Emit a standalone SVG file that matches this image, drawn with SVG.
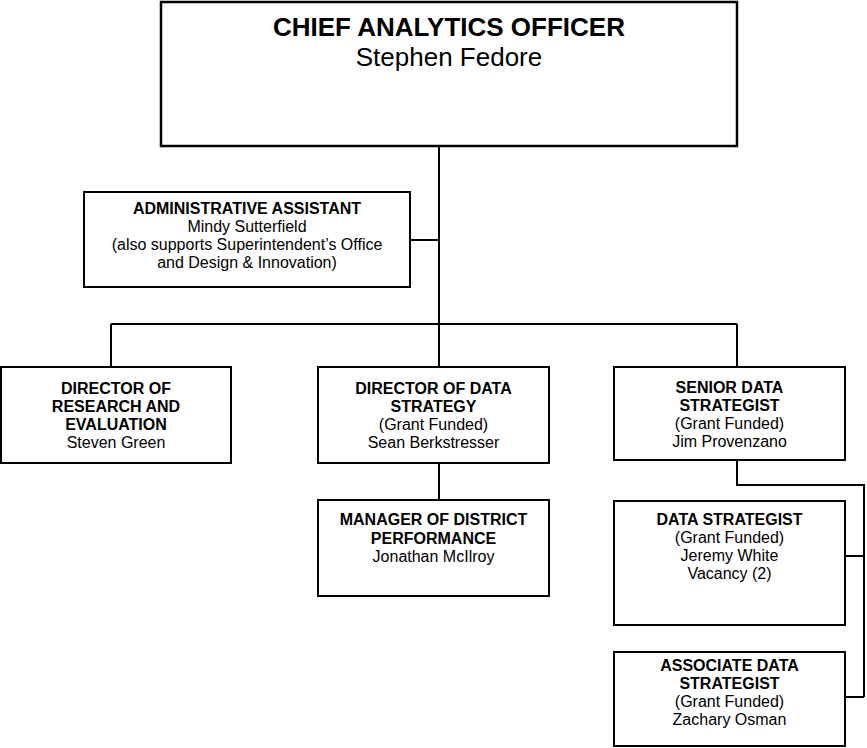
<svg xmlns="http://www.w3.org/2000/svg" width="867" height="748" viewBox="0 0 867 748">
<style>
.box{fill:#fff;stroke:#000;stroke-width:2}
.top{fill:#fff;stroke:#000;stroke-width:2.5}
.ln{fill:none;stroke:#000;stroke-width:2}
text{font-family:"Liberation Sans",Arial,sans-serif;fill:#000;text-anchor:middle}
.t{font-size:16px;font-weight:bold}
.n{font-size:16px}
.bt{font-size:26px;font-weight:bold}
.bn{font-size:26px}
</style>
<rect width="867" height="748" fill="#fff"/>
<g id="connectors">
<line class="ln" x1="439" y1="146" x2="439" y2="367"/>
<line class="ln" x1="410" y1="240" x2="439" y2="240"/>
<line class="ln" x1="111" y1="324" x2="737" y2="324"/>
<line class="ln" x1="111" y1="324" x2="111" y2="367"/>
<line class="ln" x1="737" y1="324" x2="737" y2="367"/>
<line class="ln" x1="439" y1="463" x2="439" y2="500"/>
<path class="ln" d="M737,460 V485 H864 V697"/>
<line class="ln" x1="845" y1="556" x2="864" y2="556"/>
<line class="ln" x1="845" y1="697" x2="864" y2="697"/>
</g>
<g id="cao">
<rect class="top" x="161" y="2" width="576" height="144"/>
<text class="bt" x="449" y="36">CHIEF ANALYTICS OFFICER</text>
<text class="bn" x="449" y="66">Stephen Fedore</text>
</g>
<g id="admin">
<rect class="box" x="84" y="192" width="326" height="95"/>
<text class="t" x="247" y="214">ADMINISTRATIVE ASSISTANT</text>
<text class="n" x="247" y="232">Mindy Sutterfield</text>
<text class="n" x="247" y="250">(also supports Superintendent’s Office</text>
<text class="n" x="247" y="268">and Design &amp; Innovation)</text>
</g>
<g id="research">
<rect class="box" x="1" y="367" width="230" height="96"/>
<text class="t" x="116" y="394">DIRECTOR OF</text>
<text class="t" x="116" y="412">RESEARCH AND</text>
<text class="t" x="116" y="430">EVALUATION</text>
<text class="n" x="116" y="448">Steven Green</text>
</g>
<g id="datastrategy">
<rect class="box" x="318" y="367" width="231" height="96"/>
<text class="t" x="433.5" y="394">DIRECTOR OF DATA</text>
<text class="t" x="433.5" y="412">STRATEGY</text>
<text class="n" x="433.5" y="430">(Grant Funded)</text>
<text class="n" x="433.5" y="448">Sean Berkstresser</text>
</g>
<g id="senior">
<rect class="box" x="614" y="367" width="231" height="93"/>
<text class="t" x="729.5" y="393">SENIOR DATA</text>
<text class="t" x="729.5" y="411">STRATEGIST</text>
<text class="n" x="729.5" y="429">(Grant Funded)</text>
<text class="n" x="729.5" y="447">Jim Provenzano</text>
</g>
<g id="manager">
<rect class="box" x="318" y="500" width="231" height="96"/>
<text class="t" x="433.5" y="525">MANAGER OF DISTRICT</text>
<text class="t" x="433.5" y="543.5">PERFORMANCE</text>
<text class="n" x="433.5" y="562">Jonathan McIlroy</text>
</g>
<g id="strategist">
<rect class="box" x="614" y="501" width="231" height="124"/>
<text class="t" x="729.5" y="525">DATA STRATEGIST</text>
<text class="n" x="729.5" y="543">(Grant Funded)</text>
<text class="n" x="729.5" y="561">Jeremy White</text>
<text class="n" x="729.5" y="579">Vacancy (2)</text>
</g>
<g id="associate">
<rect class="box" x="614" y="652" width="231" height="94"/>
<text class="t" x="729.5" y="671">ASSOCIATE DATA</text>
<text class="t" x="729.5" y="689">STRATEGIST</text>
<text class="n" x="729.5" y="707">(Grant Funded)</text>
<text class="n" x="729.5" y="725">Zachary Osman</text>
</g>
</svg>
